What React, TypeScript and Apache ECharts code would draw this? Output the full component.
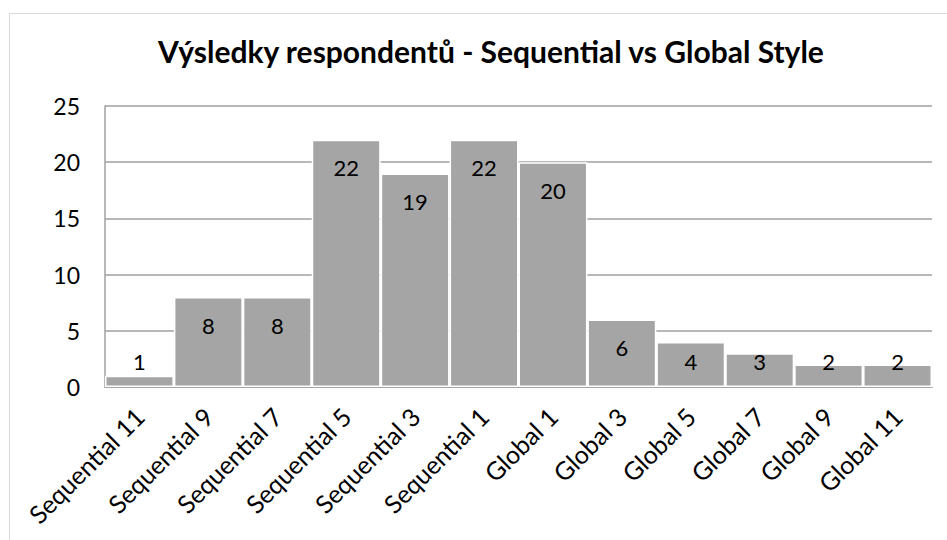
import React, { useEffect, useRef } from "react";
import * as echarts from "echarts";

const categories = [
  "Sequential 11",
  "Sequential 9",
  "Sequential 7",
  "Sequential 5",
  "Sequential 3",
  "Sequential 1",
  "Global 1",
  "Global 3",
  "Global 5",
  "Global 7",
  "Global 9",
  "Global 11",
];
const respondents = [1, 8, 8, 22, 19, 22, 20, 6, 4, 3, 2, 2];
const yTicks = { min: 0, max: 25, interval: 5 };
const title = "Výsledky respondentů - Sequential vs Global Style";

const FONT = "Lato, 'Open Sans', sans-serif";

export default function App() {
  const ref = useRef<HTMLDivElement>(null);

  useEffect(() => {
    if (!ref.current) return;
    const chart = echarts.init(ref.current, undefined, { renderer: "svg" });

    // short bars carry their label just above the baseline, tall ones inside the top
    const data = respondents.map((v) => ({
      value: v,
      label:
        v >= 5
          ? { position: "insideTop", distance: 17 }
          : { position: "insideBottom", distance: 15 },
    }));

    chart.setOption({
      animation: false,
      backgroundColor: "#ffffff",
      textStyle: { fontFamily: FONT },
      graphic: [
        {
          type: "rect",
          shape: { x: 9.5, y: 13.5, width: 960, height: 560 },
          style: { fill: "none", stroke: "#d9d9d9", lineWidth: 1 },
          silent: true,
        },
        {
          type: "text",
          x: 491,
          y: 51,
          style: {
            text: title,
            fontFamily: FONT,
            fontSize: 30,
            fontWeight: "bold",
            fill: "#000000",
            textAlign: "center",
            textVerticalAlign: "middle",
          },
        },
      ],
      grid: { left: 105, right: 15, top: 106, bottom: 153, containLabel: false },
      xAxis: {
        type: "category",
        data: categories,
        axisLine: { show: true, lineStyle: { color: "#a0a0a0", width: 1.5 } },
        axisTick: { show: false },
        axisLabel: {
          rotate: 45,
          interval: 0,
          margin: 25,
          fontSize: 25,
          color: "#000000",
          fontFamily: FONT,
        },
      },
      yAxis: {
        type: "value",
        min: yTicks.min,
        max: yTicks.max,
        interval: yTicks.interval,
        axisLine: { show: true, lineStyle: { color: "#a0a0a0", width: 1.5 } },
        axisTick: { show: false },
        splitLine: { lineStyle: { color: "#a0a0a0", width: 1.5 } },
        axisLabel: {
          margin: 25,
          fontSize: 23,
          color: "#000000",
          fontFamily: FONT,
        },
      },
      series: [
        {
          type: "bar",
          data,
          barWidth: "100%",
          barCategoryGap: 0,
          itemStyle: {
            color: "#a5a5a5",
            borderColor: "#ffffff",
            borderWidth: 1.5,
          },
          label: {
            show: true,
            fontSize: 22,
            color: "#000000",
            fontFamily: FONT,
          },
        },
      ],
    });

    return () => chart.dispose();
  }, []);

  return (
    <div
      ref={ref}
      style={{ position: "absolute", left: 0, top: 0, width: 947, height: 540 }}
    />
  );
}
